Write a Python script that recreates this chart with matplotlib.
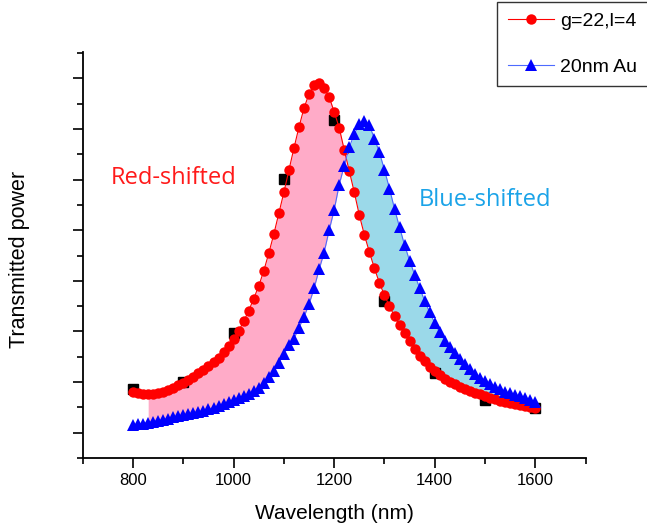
import numpy as np
import matplotlib
matplotlib.use("Agg")
import matplotlib.pyplot as plt
from matplotlib.ticker import MultipleLocator, NullFormatter

# wavelength grid (nm) of the two measured curves
wavelength = list(range(800, 1610, 10))

# g=22, l=4 (red circles)
red_power = [2.60, 2.56, 2.53, 2.52, 2.53, 2.56, 2.60, 2.68, 2.77, 2.87,
             2.98, 3.10, 3.22, 3.35, 3.48, 3.63, 3.79, 3.97, 4.18, 4.42,
             4.70, 5.02, 5.40, 5.82, 6.30, 6.80, 7.40, 8.10, 8.85, 9.68,
             10.50, 11.38, 12.25, 13.08, 13.83, 14.39, 14.74, 14.82, 14.62, 14.27,
             13.68, 13.05, 12.18, 11.34, 10.50, 9.60, 8.82, 8.14, 7.50, 6.92,
             6.43, 6.00, 5.60, 5.24, 4.92, 4.64, 4.30, 4.05, 3.82, 3.61,
             3.42, 3.27, 3.13, 3.02, 2.92, 2.82, 2.73, 2.66, 2.58, 2.51,
             2.45, 2.39, 2.33, 2.27, 2.22, 2.17, 2.12, 2.08, 2.04, 2.01,
             1.98]

# 20nm Au (blue triangles)
blue_power = [1.30, 1.33, 1.36, 1.40, 1.44, 1.48, 1.52, 1.56, 1.60, 1.64,
              1.68, 1.72, 1.77, 1.82, 1.87, 1.93, 1.99, 2.06, 2.13, 2.21,
              2.30, 2.38, 2.46, 2.54, 2.63, 2.78, 2.98, 3.20, 3.45, 3.75,
              4.12, 4.45, 4.72, 5.15, 5.58, 6.08, 6.70, 7.45, 8.12, 9.00,
              9.80, 10.80, 11.55, 12.28, 12.80, 13.18, 13.30, 13.15, 12.62, 12.08,
              11.38, 10.65, 9.85, 9.12, 8.42, 7.80, 7.25, 6.72, 6.21, 5.75,
              5.34, 4.96, 4.64, 4.37, 4.13, 3.90, 3.72, 3.50, 3.33, 3.18,
              3.05, 2.93, 2.82, 2.72, 2.62, 2.55, 2.49, 2.43, 2.37, 2.29,
              2.21]

# coarse black squares, mostly hidden under the red curve
coarse_wavelength = [800, 900, 1000, 1100, 1200, 1300, 1400, 1500, 1600]
coarse_power = [2.73, 3.00, 4.94, 11.03, 13.36, 6.21, 3.36, 2.29, 1.98]

fill_start = 830

x = np.array(wavelength)
red = np.array(red_power)
blue = np.array(blue_power)

plt.rcParams['font.family'] = ['Liberation Sans', 'DejaVu Sans']

fig = plt.figure(figsize=(6.47, 5.24), dpi=100)
ax = fig.add_axes([0.128, 0.126, 0.777, 0.775])

# shaded regions between the two curves
ax.fill_between(x, red, blue, where=(x >= fill_start) & (red >= blue),
                interpolate=True, color='#ffabc8', linewidth=0, zorder=1)
ax.fill_between(x, red, blue, where=(blue >= red),
                interpolate=True, color='#9bd9e9', linewidth=0, zorder=1)

ax.plot(coarse_wavelength, coarse_power, 's', color='black', markersize=6.5, zorder=2)
ax.plot(x, red, '-o', color='#ff0000', linewidth=0.8, markersize=7.5,
        markeredgewidth=0, label='g=22,l=4', zorder=3)
ax.plot(x, blue, '-^', color='#4d6bff', markerfacecolor='#0000ff', linewidth=0.8,
        markersize=8.5, markeredgewidth=0, label='20nm Au', zorder=3)

ax.text(756, 11.07, 'Red-shifted', color='#ff1a1a', fontsize=17,
        family='Open Sans', va='center', ha='left')
ax.text(1368, 10.2, 'Blue-shifted', color='#1aa3e8', fontsize=17,
        family='Open Sans', va='center', ha='left')

ax.set_xlim(700, 1700)
ax.set_ylim(0, 16.05)

ax.spines['top'].set_visible(False)
ax.spines['right'].set_visible(False)
ax.spines['left'].set_linewidth(1.3)
ax.spines['bottom'].set_linewidth(1.3)

ax.xaxis.set_major_locator(MultipleLocator(200))
ax.xaxis.set_minor_locator(MultipleLocator(100))
ax.yaxis.set_major_locator(MultipleLocator(2, offset=1))
ax.yaxis.set_minor_locator(MultipleLocator(1))
ax.yaxis.set_major_formatter(NullFormatter())
ax.tick_params(which='major', length=7, width=1.2, direction='out', labelsize=12)
ax.tick_params(which='minor', length=4, width=1.2, direction='out')

ax.set_xlabel('Wavelength (nm)', fontsize=15, labelpad=12)
ax.set_ylabel('Transmitted power', fontsize=15.5)
ax.yaxis.set_label_coords(-0.105, 0.488)

leg = ax.legend(loc='upper left', bbox_to_anchor=(0.768, 0.997),
                bbox_transform=fig.transFigure, fontsize=14, frameon=True,
                fancybox=False, edgecolor='black', handlelength=2.4,
                labelspacing=1.45, borderpad=0.55, handletextpad=0.3,
                borderaxespad=0)
leg.get_frame().set_linewidth(1.0)

fig.savefig('out.png', dpi=100)
